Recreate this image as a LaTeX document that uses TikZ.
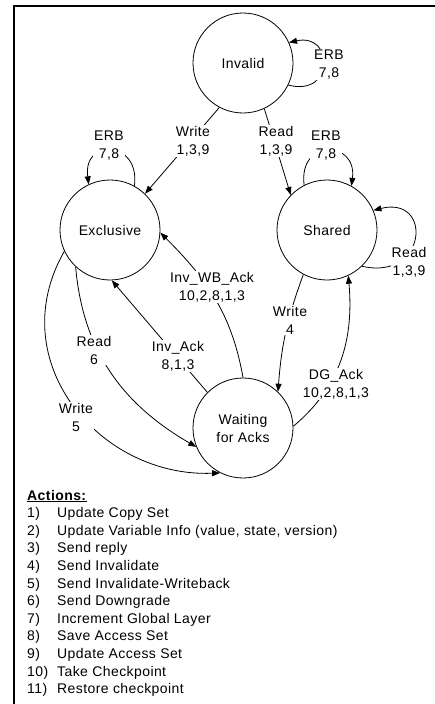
\documentclass[tikz,border=0pt]{standalone}
\usepackage{fontspec}
\setmainfont[LetterSpace=3]{Liberation Sans}
\usetikzlibrary{arrows.meta}

\begin{document}
\begin{tikzpicture}[x=1pt,y=1pt]

\tikzset{
    state_circle/.style={
        draw, circle, line width=0.8pt,
        minimum size=100pt, inner sep=0pt,
        align=center, font=\fontsize{14}{18}\selectfont
    }
}

\tikzset{
    edge_label/.style={
        fill=white, align=center, inner sep=1pt,
        font=\fontsize{14}{18}\selectfont
    }
}

\tikzset{
    transition/.style={
        line width=0.8pt,
        -{Triangle[length=8pt,width=6pt]}
    }
}

\tikzset{
    action_item/.style={
        anchor=base west, inner sep=0pt,
        font=\fontsize{14}{17.6}\selectfont
    }
}

\useasboundingbox (0,0) rectangle (435,-704);

% cornice
\draw[line width=1.5pt] (435,-6) -- (14,-6) -- (14,-704);

% stati
\node[state_circle] (invalid) at (243,-63) {Invalid};
\node[state_circle] (exclusive) at (110,-230) {Exclusive};
\node[state_circle] (shared) at (327,-230) {Shared};
\node[state_circle] (waiting) at (243,-428) {Waiting\\for Acks};

% anelli
\draw[transition] (invalid.-26) .. controls +(47,-12) and +(45,10) .. (invalid.24);
\draw[transition] (exclusive.61) .. controls +(6,46) and +(-6,47) .. (exclusive.115);
\draw[transition] (shared.117) .. controls +(-6,47) and +(6,46) .. (shared.61);
\draw[transition] (shared.-46) .. controls +(65,-15) and +(60,15) .. (shared.23);

% transizioni
\draw[transition] (invalid.-118) -- (exclusive.46);
\draw[transition] (invalid.-65) -- (shared.136);
\draw[transition] (waiting.90) to[out=100,in=-45] (exclusive.-3);
\draw[transition] (waiting.135) -- (exclusive.-88);
\draw[transition] (exclusive.-133) to[out=-85,in=150] (waiting.-158);
\draw[transition] (exclusive.-155) .. controls +(-63,-110) and +(-120,-5) .. (waiting.-117);
\draw[transition] (shared.-118) to[bend right=8] (waiting.46);
\draw[transition] (waiting.2) to[out=40,in=-85] (shared.-65);

% etichette
\node[edge_label] (erb_inv) at (329,-64.5) {ERB\\7,8};
\node[edge_label] (erb_exc) at (109,-146) {ERB\\7,8};
\node[edge_label] (erb_shr) at (326,-146) {ERB\\7,8};
\node[edge_label] (read_shr) at (409,-262) {Read\\1,3,9};
\node[edge_label] (write_inv) at (193,-141) {Write\\1,3,9};
\node[edge_label] (read_inv) at (276,-141) {Read\\1,3,9};
\node[edge_label] (inv_wb_ack) at (212,-287) {Inv\_WB\_Ack\\10,2,8,1,3};
\node[edge_label] (inv_ack) at (178,-356) {Inv\_Ack\\8,1,3};
\node[edge_label] (read_exc) at (94,-350) {Read\\6};
\node[edge_label] (write_exc) at (76,-417) {Write\\5};
\node[edge_label] (write_shr) at (290,-320) {Write\\4};
\node[edge_label] (dg_ack) at (336,-384) {DG\_Ack\\10,2,8,1,3};

% azioni
\node[action_item] (actions) at (27,-500) {\underline{\textbf{Actions:}}};
\foreach \txt [count=\i] in {Update Copy Set,
    {Update Variable Info (value, state, version)},
    Send reply, Send Invalidate, Send Invalidate-Writeback,
    Send Downgrade, Increment Global Layer, Save Access Set,
    Update Access Set, Take Checkpoint, Restore checkpoint}
{
    \node[action_item] (act\i) at (27,-500-17.6*\i) {\makebox[30pt][l]{\i)}\txt};
}

\end{tikzpicture}
\end{document}
